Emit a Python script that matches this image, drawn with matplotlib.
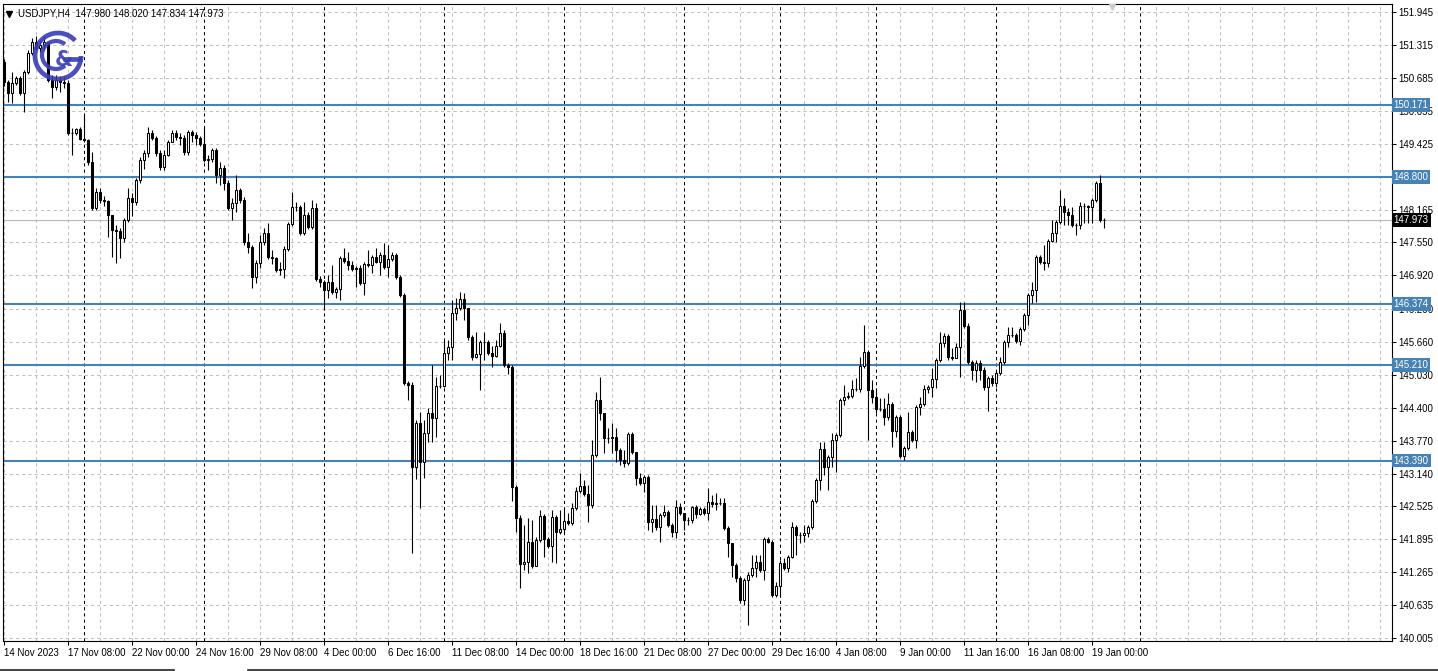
import numpy as np
import matplotlib
matplotlib.use("Agg")
import matplotlib.pyplot as plt
from matplotlib.patches import Rectangle, Arc

plt.rcParams["font.family"] = ["Liberation Sans", "DejaVu Sans"]

# =========================================================
# データ (USDJPY H4, 14 Nov 2023 16:00 - 19 Jan 2024 12:00)
# =========================================================
first_open = 150.99

close = [
    150.61, 150.40, 150.59, 150.69, 150.40, 150.80, 151.16, 151.37, 151.26, 151.31,
    151.37, 150.65, 150.52, 150.65, 150.61, 150.59, 149.63, 149.63, 149.71, 149.52,
    149.50, 149.08, 148.21, 148.51, 148.36, 148.34, 148.07, 147.79, 147.77, 147.64,
    147.98, 148.40, 148.32, 148.74, 149.12, 149.25, 149.63, 149.54, 149.25, 148.99,
    149.21, 149.46, 149.63, 149.56, 149.54, 149.27, 149.65, 149.60, 149.54, 149.43,
    149.12, 149.14, 149.31, 148.84, 148.97, 148.68, 148.21, 148.30, 148.55, 148.36,
    147.56, 147.47, 146.89, 147.16, 147.56, 147.73, 147.28, 147.26, 147.02, 147.04,
    147.43, 147.90, 148.23, 148.23, 147.73, 148.07, 147.84, 148.21, 146.85, 146.79,
    146.64, 146.79, 146.60, 146.66, 147.26, 147.20, 147.12, 147.04, 147.06, 146.77,
    147.14, 147.12, 147.28, 147.18, 147.32, 147.08, 147.24, 147.32, 146.89, 146.55,
    144.87, 144.83, 143.27, 144.10, 143.36, 143.92, 144.29, 144.20, 144.81, 144.81,
    145.44, 145.56, 146.21, 146.30, 146.47, 146.30, 145.75, 145.37, 145.42, 145.65,
    145.65, 145.44, 145.38, 145.58, 145.82, 145.21, 145.17, 142.88, 142.30, 141.42,
    141.45, 141.84, 141.38, 141.87, 142.33, 141.89, 141.76, 142.31, 142.03, 142.09,
    142.24, 142.20, 142.49, 142.81, 142.90, 142.75, 142.54, 143.49, 144.55, 144.29,
    143.82, 143.82, 143.84, 143.59, 143.40, 143.34, 143.90, 143.55, 143.06, 142.96,
    143.08, 142.22, 142.28, 142.12, 142.35, 142.41, 142.16, 142.03, 142.50, 142.39,
    142.26, 142.26, 142.50, 142.37, 142.47, 142.39, 142.60, 142.56, 142.58, 142.58,
    142.10, 141.81, 141.40, 141.15, 140.73, 141.11, 141.21, 141.34, 141.45, 141.30,
    141.89, 141.84, 140.83, 141.00, 141.44, 141.34, 141.55, 142.12, 141.97, 141.97,
    142.01, 142.12, 142.62, 143.02, 143.61, 143.27, 143.46, 143.78, 143.88, 144.55,
    144.60, 144.62, 144.76, 144.76, 145.19, 145.46, 144.74, 144.60, 144.37, 144.37,
    144.22, 144.47, 143.95, 144.22, 143.48, 143.63, 143.93, 143.78, 144.41, 144.47,
    144.76, 144.79, 144.95, 145.31, 145.63, 145.77, 145.37, 145.35, 145.56, 146.26,
    145.95, 145.27, 145.12, 145.25, 145.12, 144.79, 144.96, 144.87, 145.06, 145.27,
    145.65, 145.79, 145.79, 145.67, 145.90, 146.17, 146.55, 146.64, 147.28, 147.18,
    147.16, 147.58, 147.73, 147.94, 148.25, 148.13, 148.07, 147.88, 147.88, 148.25,
    148.25, 148.23, 148.36, 148.68, 147.98, 147.973,
]

high = [
    151.05, 150.65, 150.80, 150.73, 150.73, 150.84, 151.22, 151.45, 151.49, 151.41,
    151.49, 151.37, 150.74, 150.74, 150.73, 150.73, 150.65, 149.73, 149.73, 149.75,
    149.98, 149.52, 149.27, 148.59, 148.59, 148.44, 148.36, 148.07, 147.88, 147.83,
    148.02, 148.59, 148.49, 148.78, 149.18, 149.31, 149.75, 149.69, 149.58, 149.31,
    149.31, 149.50, 149.69, 149.69, 149.63, 149.60, 149.69, 149.69, 149.65, 149.58,
    149.75, 149.21, 149.35, 149.35, 149.08, 149.03, 148.74, 148.40, 148.84, 148.59,
    148.42, 147.73, 147.50, 147.22, 147.69, 147.83, 147.92, 147.41, 147.28, 147.18,
    147.49, 147.94, 148.51, 148.32, 148.27, 148.32, 148.13, 148.36, 148.30, 146.91,
    146.83, 146.93, 147.12, 146.70, 147.30, 147.45, 147.37, 147.20, 147.10, 147.12,
    147.18, 147.41, 147.32, 147.45, 147.37, 147.54, 147.50, 147.37, 147.35, 146.93,
    146.59, 144.91, 144.89, 144.16, 144.31, 144.16, 144.39, 145.21, 144.98, 145.02,
    145.69, 145.69, 146.45, 146.49, 146.60, 146.59, 146.15, 145.79, 145.84, 145.69,
    145.84, 145.69, 145.58, 145.69, 146.01, 145.88, 145.25, 145.21, 142.92, 142.35,
    142.16, 142.30, 142.26, 141.93, 142.45, 142.37, 141.93, 142.45, 142.35, 142.45,
    142.49, 142.39, 142.58, 142.88, 143.15, 143.02, 142.92, 143.78, 144.70, 144.98,
    144.29, 144.01, 144.10, 144.01, 143.63, 143.59, 143.93, 143.93, 143.55, 143.15,
    143.11, 143.11, 142.54, 142.54, 142.39, 142.54, 142.45, 142.20, 142.64, 142.58,
    142.35, 142.31, 142.52, 142.54, 142.50, 142.50, 142.87, 142.73, 142.77, 142.68,
    142.68, 142.14, 141.78, 141.44, 141.19, 141.15, 141.26, 141.59, 141.59, 141.59,
    141.93, 141.93, 141.87, 141.07, 141.49, 141.53, 141.59, 142.22, 142.16, 142.03,
    142.16, 142.16, 142.66, 143.06, 143.74, 143.74, 143.50, 143.91, 143.91, 144.59,
    144.83, 144.70, 144.93, 144.96, 145.37, 145.98, 145.50, 144.93, 144.78, 144.59,
    144.59, 144.68, 144.51, 144.26, 144.26, 143.67, 144.31, 143.97, 144.45, 144.60,
    144.83, 144.83, 145.15, 145.35, 145.84, 145.82, 145.80, 145.54, 145.63, 146.41,
    146.41, 146.01, 145.31, 145.31, 145.31, 145.17, 145.00, 145.02, 145.12, 145.37,
    145.69, 145.94, 145.94, 145.82, 145.94, 146.21, 146.59, 146.79, 147.32, 147.32,
    147.50, 147.62, 147.98, 147.98, 148.55, 148.40, 148.21, 148.23, 147.92, 148.32,
    148.30, 148.27, 148.40, 148.72, 148.84, 148.020,
]

low = [
    150.54, 150.23, 150.21, 150.55, 150.36, 150.04, 150.76, 151.12, 151.22, 151.18,
    151.22, 150.61, 150.31, 150.46, 150.42, 150.50, 149.60, 149.21, 149.60, 149.50,
    149.46, 149.03, 148.17, 148.17, 148.30, 148.25, 147.66, 147.28, 147.16, 147.26,
    147.56, 147.94, 148.05, 148.27, 148.68, 148.95, 149.18, 149.50, 149.20, 148.93,
    148.93, 149.20, 149.46, 149.50, 149.41, 149.21, 149.21, 149.46, 149.41, 149.39,
    149.08, 148.93, 149.08, 148.68, 148.64, 148.55, 148.17, 147.98, 148.13, 148.30,
    147.50, 147.35, 146.68, 146.77, 147.06, 147.50, 147.24, 147.13, 146.98, 146.93,
    146.87, 147.39, 147.86, 148.15, 147.69, 147.69, 147.81, 147.81, 146.81, 146.70,
    146.26, 146.49, 146.56, 146.49, 146.45, 147.16, 147.02, 147.00, 146.70, 146.74,
    146.55, 147.08, 146.97, 147.16, 146.93, 147.04, 146.89, 147.20, 146.85, 146.51,
    144.83, 144.55, 141.62, 143.04, 142.48, 143.06, 143.74, 143.74, 143.84, 144.78,
    144.80, 145.31, 145.31, 146.07, 146.26, 146.07, 145.69, 145.31, 145.35, 144.74,
    145.31, 145.40, 145.17, 145.37, 145.56, 145.17, 145.04, 142.62, 142.03, 140.96,
    141.30, 141.24, 141.34, 141.40, 141.84, 141.55, 141.72, 141.45, 141.43, 141.99,
    142.01, 142.16, 142.16, 142.45, 142.77, 142.71, 142.22, 142.49, 143.46, 144.16,
    143.53, 143.72, 143.53, 143.36, 143.30, 143.27, 143.30, 143.51, 142.92, 142.92,
    142.79, 142.07, 142.03, 142.07, 141.84, 142.31, 142.12, 141.93, 141.91, 142.35,
    142.07, 142.16, 142.20, 142.29, 142.35, 142.35, 142.26, 142.50, 142.45, 142.54,
    142.07, 141.55, 141.17, 141.07, 140.67, 140.64, 140.26, 141.17, 141.17, 141.26,
    141.11, 141.82, 140.79, 140.79, 140.79, 141.30, 141.26, 141.53, 141.59, 141.82,
    141.84, 141.93, 142.09, 142.58, 142.83, 143.11, 142.83, 143.27, 143.17, 143.84,
    144.45, 144.57, 144.59, 144.72, 144.70, 145.15, 143.78, 144.49, 144.29, 144.33,
    144.07, 144.16, 143.65, 143.84, 143.44, 143.40, 143.59, 143.74, 143.63, 144.26,
    144.43, 144.68, 144.60, 144.78, 145.27, 145.56, 145.31, 145.31, 145.35, 144.98,
    145.92, 145.23, 144.93, 144.89, 144.93, 144.74, 144.33, 144.81, 144.80, 145.02,
    145.23, 145.56, 145.75, 145.63, 145.59, 145.86, 145.98, 146.39, 146.41, 147.13,
    147.02, 147.08, 147.56, 147.56, 147.90, 147.88, 147.88, 147.84, 147.69, 147.81,
    147.92, 147.92, 147.92, 148.32, 147.94, 147.834,
]

time_labels = [
    "14 Nov 2023", "17 Nov 08:00", "22 Nov 00:00", "24 Nov 16:00", "29 Nov 08:00",
    "4 Dec 00:00", "6 Dec 16:00", "11 Dec 08:00", "14 Dec 00:00", "18 Dec 16:00",
    "21 Dec 08:00", "27 Dec 00:00", "29 Dec 16:00", "4 Jan 08:00", "9 Jan 00:00",
    "11 Jan 16:00", "16 Jan 08:00", "19 Jan 00:00",
]
LABEL_EVERY = 16          # 時間ラベルは16本ごと
GRID_EVERY = 8            # 縦グリッドは8本ごと

# 148.795 のラベルは 148.800 のボックスに隠れて見えないのでグリッドのみ
price_ticks = [
    151.945, 151.315, 150.685, 150.055, 149.425, 148.165, 147.550,
    146.920, 146.290, 145.660, 145.030, 144.400, 143.770, 143.140, 142.525,
    141.895, 141.265, 140.635, 140.005,
]
hidden_grid = [148.795]

levels = [150.171, 148.800, 146.374, 145.210, 143.390]
week_starts = [20, 50, 80, 110, 140, 170, 194, 218, 248, 284]   # 週区切り(バー番号)
symbol = "USDJPY,H4"
last_bar = [147.980, 148.020, 147.834, 147.973]   # O H L C

LEVEL_COLOR = "#4682b4"
GRID_COLOR = "#c0c0c0"
FS = 7

# =========================================================
assert len(close) == len(high) == len(low), (len(close), len(high), len(low))
n = len(close)
opens = [first_open] + close[:-1]
idx = np.arange(n)
hi = np.maximum.reduce([np.array(high), np.array(opens), np.array(close)])
lo = np.minimum.reduce([np.array(low), np.array(opens), np.array(close)])

W, H = 1438, 671
fig = plt.figure(figsize=(W / 100, H / 100), dpi=100)
ax = fig.add_axes([3 / W, 30 / H, 1389 / W, 637 / H])
ax.set_xlim(-0.25, 347)
ax.set_ylim(139.948, 152.098)

# --- グリッド ---
for p in price_ticks + hidden_grid:
    ax.axhline(p, color=GRID_COLOR, lw=0.75, ls=(0, (3, 3)), zorder=0)
for g in range(0, 347, GRID_EVERY):
    ax.axvline(g, color=GRID_COLOR, lw=0.75, ls=(0, (3, 3)), zorder=0)
for w in week_starts:
    ax.axvline(w, color="black", lw=0.75, ls=(0, (3, 3)), zorder=0.5)

# --- 水平ライン ---
ax.axhline(close[-1], color="#b8b8b8", lw=0.8, zorder=0.8)
for lv in levels:
    ax.axhline(lv, color=LEVEL_COLOR, lw=1.5, zorder=1)

# --- ローソク足 ---
ax.vlines(idx, lo, hi, color="black", lw=0.8, zorder=3)
BW = 0.5
for i in range(n):
    o, c = opens[i], close[i]
    if abs(c - o) < 0.006:
        ax.hlines(c, i - BW / 2 - 0.1, i + BW / 2 + 0.1, color="black", lw=0.9, zorder=4)
        continue
    fc = "white" if c > o else "black"
    ax.add_patch(Rectangle((i - BW / 2, min(o, c)), BW, abs(c - o),
                           facecolor=fc, edgecolor="black", lw=0.75, zorder=4))

# --- 軸 ---
ax.yaxis.tick_right()
ax.set_yticks(price_ticks)
ax.set_yticklabels([f"{p:.3f}" for p in price_ticks])
ax.set_xticks([k * LABEL_EVERY for k in range(len(time_labels))])
ax.set_xticklabels(time_labels)
for lbl in ax.get_xticklabels():
    lbl.set_horizontalalignment("left")
ax.tick_params(axis="y", direction="out", length=3, width=0.75, labelsize=FS, pad=1.5)
ax.tick_params(axis="x", direction="out", length=3, width=0.75, labelsize=FS, pad=2)
for s in ax.spines.values():
    s.set_linewidth(0.8)
    s.set_color("black")

# --- 右軸の価格ラベル ---
for lv in levels:
    ax.text(1.0012, lv, f"{lv:.3f}", transform=ax.get_yaxis_transform(), fontsize=FS,
            color="white", va="center", ha="left", zorder=10, clip_on=False,
            bbox=dict(boxstyle="square,pad=0.2", fc=LEVEL_COLOR, ec="none"))
ax.text(1.0012, close[-1], f"{close[-1]:.3f}", transform=ax.get_yaxis_transform(), fontsize=FS,
        color="white", va="center", ha="left", zorder=11, clip_on=False,
        bbox=dict(boxstyle="square,pad=0.2", fc="black", ec="none"))

# --- 装飾 (ヘッダ・ロゴ・下枠) ---
deco = fig.add_axes([0, 0, 1, 1], zorder=5)
deco.set_xlim(0, W)
deco.set_ylim(H, 0)
deco.axis("off")
deco.patch.set_visible(False)

deco.plot(9, 14, marker="v", ms=4, color="black")
deco.text(18, 14, symbol + "  " + " ".join(f"{v:.3f}" for v in last_bar),
          fontsize=FS, va="center", ha="left")

logo = "#3a3db5"
deco.add_patch(Arc((58, 56), 46, 46, theta1=0, theta2=318, color=logo, lw=3.4, alpha=0.9))
deco.plot([63, 82], [59, 59], color=logo, lw=3.4, alpha=0.9, solid_capstyle="butt")
deco.add_patch(Arc((56, 55), 28, 28, theta1=50, theta2=310, color=logo, lw=3.0, alpha=0.9))
deco.text(64, 60, "&", fontsize=15, fontweight="bold", color=logo, ha="center", va="center",
          family="DejaVu Sans", alpha=0.9)

deco.plot(1112, 7, marker="v", ms=5, color="#cccccc")

# ウィンドウ下端の枠線 (タブ部分は途切れる)
deco.plot([0, 174], [669.5, 669.5], color="#222222", lw=1.2)
deco.plot([248, W], [669.5, 669.5], color="#222222", lw=1.2)

fig.savefig("out.png", dpi=100)
